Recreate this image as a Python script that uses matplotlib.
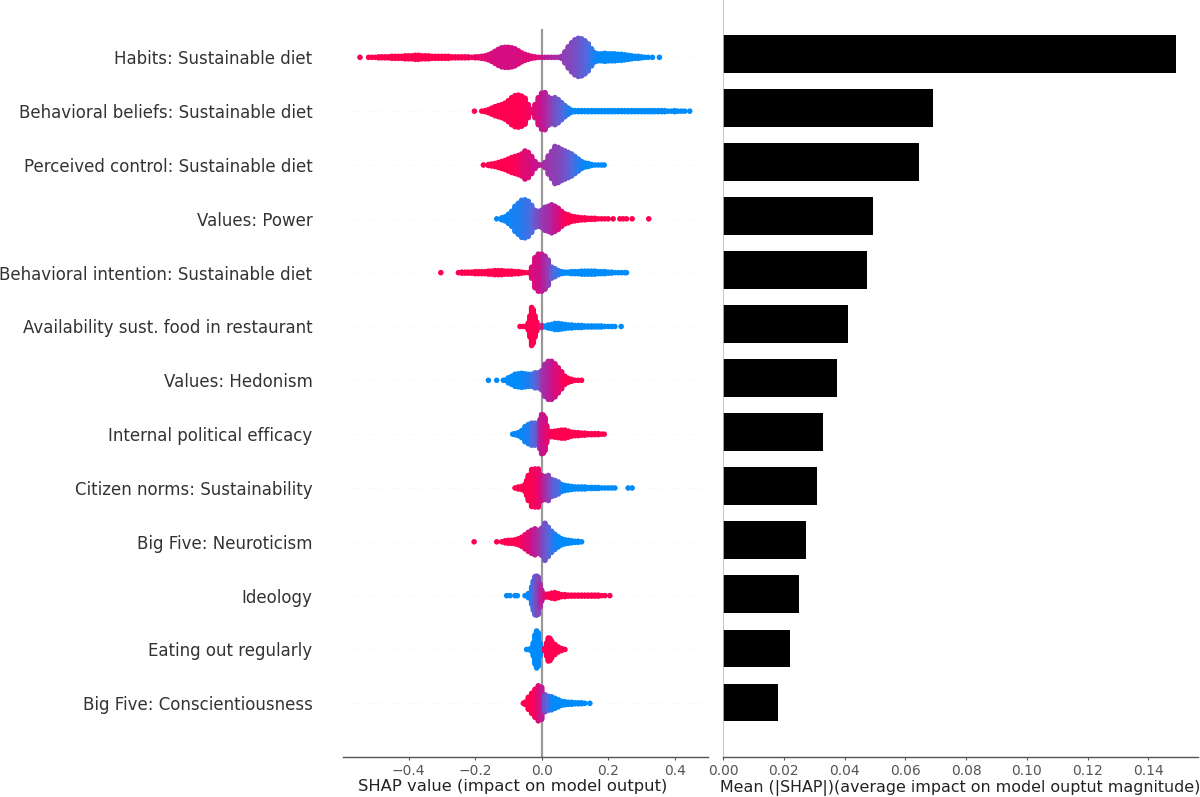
import matplotlib
matplotlib.use("Agg")
import matplotlib.pyplot as plt
from matplotlib.colors import LinearSegmentedColormap
import numpy as np

FEATURES = ["Habits: Sustainable diet", "Behavioral beliefs: Sustainable diet",
            "Perceived control: Sustainable diet", "Values: Power",
            "Behavioral intention: Sustainable diet", "Availability sust. food in restaurant",
            "Values: Hedonism", "Internal political efficacy",
            "Citizen norms: Sustainability", "Big Five: Neuroticism", "Ideology",
            "Eating out regularly", "Big Five: Conscientiousness"]

MEAN_SHAP = [0.149, 0.069, 0.0645, 0.0495, 0.0475, 0.0413, 0.0375,
             0.033, 0.031, 0.0272, 0.025, 0.022, 0.018]

# (shap value, number of people piled up there, feature value 0-1)
habits = [(-0.546,1,1),(-0.52,1,1),(-0.51,1,1),(-0.50,1,1),(-0.49,2,1),(-0.48,2,1),(-0.47,2,1),(-0.46,2,1),
          (-0.45,3,1),(-0.44,3,1),(-0.43,3,1),(-0.42,3,1),(-0.41,4,1),(-0.40,4,1),(-0.39,4,1),(-0.38,5,1),
          (-0.37,5,1),(-0.36,4,1),(-0.35,4,1),(-0.34,4,1),(-0.33,3,1),(-0.32,3,1),(-0.31,3,1),(-0.30,3,1),
          (-0.29,3,1),(-0.28,3,1),(-0.27,2,1),(-0.26,2,.98),(-0.25,2,.98),(-0.24,2,.96),(-0.23,2,.95),(-0.22,2,.95),
          (-0.21,1,.93),(-0.20,2,.92),(-0.19,2,.9),(-0.18,3,.88),(-0.17,4,.85),(-0.16,6,.85),(-0.15,9,.82),
          (-0.14,13,.8),(-0.13,17,.8),(-0.12,20,.8),(-0.11,21,.8),(-0.10,21,.8),(-0.09,20,.8),(-0.08,18,.8),
          (-0.07,14,.82),(-0.06,10,.82),(-0.05,7,.84),(-0.04,5,.84),(-0.03,3,.85),(-0.02,2,.85),(-0.01,1,.85),
          (0.0,1,.75),(0.01,1,.7),(0.02,1,.65),(0.03,1,.65),(0.04,1,.62),(0.05,1,.6),(0.06,3,.55),(0.07,12,.5),
          (0.08,22,.48),(0.09,30,.45),(0.10,36,.42),(0.11,39,.38),(0.12,38,.35),(0.13,34,.3),(0.14,28,.25),
          (0.15,18,.15),(0.16,10,.08),(0.17,8,.02),(0.18,8,0),(0.19,9,0),(0.20,8,0),(0.21,8,0),(0.22,8,0),
          (0.23,7,0),(0.24,7,0),(0.25,6,0),(0.26,5,0),(0.27,4,0),(0.28,3,0),(0.29,3,0),(0.30,2,0),(0.31,1,0),
          (0.32,1,0),(0.333,1,0),(0.354,1,0)]

beliefs = [(-0.202,1,1),(-0.18,1,1),(-0.17,2,1),(-0.16,4,1),(-0.15,7,1),(-0.14,10,1),(-0.13,12,1),(-0.12,14,1),
           (-0.11,17,1),(-0.10,22,1),(-0.09,28,1),(-0.08,32,1),(-0.07,33,1),(-0.06,31,1),(-0.05,27,.98),
           (-0.04,14,.95),(-0.03,4,.9),(-0.02,14,.85),(-0.01,28,.8),(0.0,37,.75),(0.01,38,.68),(0.02,29,.58),
           (0.03,26,.5),(0.04,28,.42),(0.05,24,.35),(0.06,18,.3),(0.07,12,.22),(0.08,7,.12),(0.09,3,.05),
           (0.10,2,0),(0.11,2,0),(0.12,2,0),(0.13,2,0),(0.14,2,0),(0.15,2,0),(0.16,2,0),(0.17,2,0),(0.18,2,0),(0.19,2,0),
           (0.20,2,0),(0.21,2,0),(0.22,2,0),(0.23,2,0),(0.24,2,0),(0.25,2,0),(0.26,2,0),(0.27,2,0),(0.28,2,0),(0.29,2,0),
           (0.30,2,0),(0.31,2,0),(0.32,2,0),(0.33,2,0),(0.34,2,0),(0.35,2,0),(0.36,2,0),(0.37,2,0),(0.38,1,0),(0.39,1,0),
           (0.40,2,0),(0.41,1,0),(0.42,1,0),(0.43,1,0),(0.445,1,0)]

control = [(-0.175,1,1),(-0.16,2,1),(-0.15,3,1),(-0.14,4,1),(-0.13,6,1),(-0.12,8,1),(-0.11,10,1),(-0.10,13,1),
           (-0.09,16,1),(-0.08,18,.97),(-0.07,20,.95),(-0.06,23,.9),(-0.05,29,.85),(-0.04,26,.85),(-0.03,18,.8),
           (-0.02,8,.75),(-0.01,2,.72),(0.0,1,.7),(0.01,6,.6),(0.02,19,.55),(0.03,28,.52),(0.04,38,.5),(0.05,36,.47),
           (0.06,32,.44),(0.07,29,.4),(0.08,26,.35),(0.09,23,.28),(0.10,18,.2),(0.11,13,.14),(0.12,8,.08),
           (0.13,5,.03),(0.14,4,0),(0.15,2,0),(0.16,1,0),(0.17,1,0),(0.18,1,0),(0.188,1,0)]

power = [(-0.135,1,0),(-0.12,3,.02),(-0.11,5,.02),(-0.10,10,.04),(-0.09,16,.05),(-0.08,26,.08),(-0.07,32,.1),
         (-0.06,38,.12),(-0.05,39,.15),(-0.04,36,.2),(-0.03,28,.25),(-0.02,18,.35),(-0.01,16,.42),(0.0,18,.5),
         (0.01,24,.55),(0.02,26,.6),(0.03,29,.65),(0.04,26,.72),(0.05,22,.8),(0.06,16,.88),(0.07,11,.95),
         (0.08,9,1),(0.09,6,1),(0.10,5,1),(0.11,4,1),(0.12,3,1),(0.13,3,1),(0.14,2,1),(0.15,2,1),(0.16,2,1),
         (0.17,1,1),(0.18,1,1),(0.19,1,1),(0.20,1,1),(0.215,1,1),(0.235,1,1),(0.245,1,1),(0.255,1,1),
         (0.272,1,1),(0.322,1,1)]

intention = [(-0.303,1,1),(-0.25,1,1),(-0.24,2,1),(-0.23,2,1),(-0.22,2,1),(-0.21,2,1),(-0.20,3,1),(-0.19,3,1),(-0.18,3,1),(-0.17,3,1),
             (-0.16,4,1),(-0.15,4,1),(-0.14,5,1),(-0.13,5,1),(-0.12,5,1),(-0.11,4,1),(-0.10,4,1),(-0.09,4,1),
             (-0.08,3,1),(-0.07,3,1),(-0.06,2,1),(-0.05,1,1),(-0.04,1,.95),(-0.03,12,.85),(-0.02,31,.82),
             (-0.01,38,.8),(0.0,38,.72),(0.01,34,.65),(0.02,26,.5),(0.03,12,.35),(0.04,9,.25),(0.05,5,.15),
             (0.06,3,.05),(0.07,2,0),(0.08,2,0),(0.09,3,0),(0.10,3,0),(0.11,3,0),(0.12,4,0),(0.13,4,0),(0.14,4,0),
             (0.15,4,0),(0.16,4,0),(0.17,3,0),(0.18,3,0),(0.19,3,0),(0.20,2,0),(0.21,2,0),(0.22,1,0),(0.23,1,0),
             (0.24,1,0),(0.25,1,0),(0.255,1,0)]

availability = [(-0.065,1,1),(-0.055,1,1),(-0.045,2,1),(-0.04,8,1),(-0.035,22,1),(-0.03,39,1),(-0.025,34,1),(-0.02,22,1),(-0.015,10,1),(-0.01,3,1),
                (0.0,3,.5),(0.005,1,1),(0.012,2,0),(0.02,4,0),(0.03,5,0),(0.04,7,0),(0.05,7,0),(0.06,6,0),(0.07,5,0),
                (0.08,4,0),(0.09,4,0),(0.10,3,0),(0.11,3,0),(0.12,3,0),(0.13,2,0),(0.14,2,0),(0.15,2,0),(0.16,2,0),
                (0.17,2,0),(0.18,2,0),(0.19,1,0),(0.20,1,0),(0.21,1,0),(0.22,1,0),(0.239,1,0)]

hedonism = [(-0.16,1,0),(-0.135,1,0),(-0.115,1,0),(-0.11,1,0),(-0.10,6,0),(-0.09,9,0),(-0.08,13,0),(-0.07,14,0),
            (-0.06,15,.02),(-0.05,14,.05),(-0.04,13,.1),(-0.03,13,.15),(-0.02,16,.25),(-0.01,16,.35),(0.0,20,.5),
            (0.01,33,.6),(0.02,39,.65),(0.03,39,.72),(0.04,34,.8),(0.05,26,.85),(0.06,18,.9),(0.07,9,1),(0.08,5,1),
            (0.09,3,1),(0.10,1,1),(0.11,1,1),(0.12,1,1)]

efficacy = [(-0.087,1,.02),(-0.08,2,.02),(-0.07,4,.02),(-0.06,8,.03),(-0.05,16,.05),(-0.04,20,.08),(-0.03,23,.2),
            (-0.02,23,.3),(-0.01,20,.4),(-0.005,30,.6),(0.0,40,.72),(0.005,39,.75),(0.01,34,.78),(0.015,18,.85),(0.02,7,.9),(0.03,6,1),(0.04,7,1),(0.05,8,1),
            (0.06,9,1),(0.07,9,1),(0.08,7,1),(0.09,5,1),(0.10,4,1),(0.11,4,1),(0.12,3,1),(0.13,3,1),(0.14,2,1),
            (0.15,2,1),(0.16,2,1),(0.17,2,1),(0.18,1,1),(0.188,1,1)]

norms = [(-0.08,1,1),(-0.07,3,1),(-0.06,4,1),(-0.05,8,1),(-0.045,16,1),(-0.04,26,1),(-0.03,38,1),(-0.02,39,.95),(-0.01,39,.9),
         (0.0,26,.8),(0.01,24,.65),(0.02,26,.5),(0.03,18,.4),(0.04,16,.3),(0.05,13,.25),(0.06,8,.1),(0.07,6,0),
         (0.08,5,0),(0.09,4,0),(0.10,3,0),(0.11,3,0),(0.12,3,0),(0.13,3,0),(0.14,2,0),(0.15,2,0),(0.16,2,0),
         (0.17,2,0),(0.18,1,0),(0.19,1,0),(0.20,1,0),(0.21,1,0),(0.22,1,0),(0.26,1,0),(0.272,1,0)]

neuroticism = [(-0.203,1,1),(-0.135,1,1),(-0.12,1,1),(-0.11,3,1),(-0.10,4,1),(-0.09,4,1),(-0.08,5,1),(-0.07,7,.98),
               (-0.06,10,.95),(-0.05,15,.9),(-0.04,20,.85),(-0.03,24,.78),(-0.02,27,.7),(-0.01,24,.6),(0.0,28,.5),
               (0.01,38,.4),(0.02,30,.3),(0.03,22,.2),(0.04,16,.1),(0.05,11,.03),(0.06,7,0),(0.07,5,0),(0.08,4,0),
               (0.09,3,0),(0.10,2,0),(0.11,2,0),(0.12,1,0)]

ideology = [(-0.105,1,0),(-0.095,1,0),(-0.08,1,0),(-0.073,1,0),(-0.05,1,0),(-0.04,5,.02),(-0.03,18,.1),(-0.025,30,.2),(-0.02,39,.3),(-0.015,40,.38),
            (-0.01,38,.45),(-0.005,24,.6),(0.0,12,.7),(0.01,4,.85),(0.02,4,1),(0.03,6,1),(0.04,7,1),(0.05,5,1),(0.06,3,1),(0.07,3,1),
            (0.08,2,1),(0.09,2,1),(0.10,2,1),(0.11,2,1),(0.12,2,1),(0.13,2,1),(0.14,2,1),(0.15,2,1),(0.16,2,1),
            (0.17,2,1),(0.18,1,1),(0.19,1,1),(0.205,1,1)]

eating = [(-0.045,1,0),(-0.035,2,0),(-0.03,4,0),(-0.025,14,0),(-0.02,30,0),(-0.015,38,0),(-0.01,34,0),(-0.005,14,0),(0.0,2,0),(0.01,4,1),(0.015,14,1),(0.02,24,1),(0.025,23,1),(0.03,18,1),
          (0.04,11,1),(0.05,6,1),(0.06,3,1),(0.07,1,1)]

conscientious = [(-0.055,1,1),(-0.05,3,1),(-0.04,13,1),(-0.03,21,1),(-0.02,29,.95),(-0.01,36,.85),(0.0,33,.7),
                 (0.01,18,.4),(0.02,15,.2),(0.03,14,.1),(0.04,11,0),(0.05,8,0),(0.06,5,0),(0.07,4,0),(0.08,3,0),
                 (0.09,3,0),(0.10,2,0),(0.11,2,0),(0.12,2,0),(0.13,1,0),(0.145,1,0)]

SWARMS = [habits, beliefs, control, power, intention, availability, hedonism,
          efficacy, norms, neuroticism, ideology, eating, conscientious]

# mid tones of the original are more saturated than a straight blue to red blend
red_blue = LinearSegmentedColormap.from_list(
    "red_blue", ["#008bfb", "#4f6be0", "#8f3fb4", "#c9128e", "#ff0051"])

W, H = 1200, 797
fig = plt.figure(figsize=(W / 100, H / 100), dpi=100)

# axes boxes come from the pixel layout of the original
ax = fig.add_axes([343 / W, (H - 756.5) / H, 365 / W, 727.5 / H])
ax2 = fig.add_axes([723 / W, (H - 756.5) / H, 475 / W, 756.5 / H])

rows = np.arange(len(FEATURES))[::-1]
row_px = 53.83

for y, swarm in zip(rows, SWARMS):
    ax.axhline(y, color="#cccccc", lw=0.6, dashes=(1, 5), alpha=0.5, zorder=0)
    xs, counts, vals = [np.array(v) for v in zip(*swarm)]
    px = np.repeat(xs, counts)
    cs = np.repeat(vals, counts)
    py = np.concatenate([(np.arange(n) - (n - 1) / 2) / row_px for n in counts]) + y
    ax.scatter(px, py, c=cs, cmap=red_blue, vmin=0, vmax=1, s=16, linewidths=0, zorder=3)

ax.axvline(0, color="#999999", lw=1.6, zorder=1)
ax.set_xlim(-0.597, 0.5)
ax.set_ylim(-53.2 / row_px, 674.3 / row_px)
ax.set_yticks(rows)
ax.set_yticklabels(FEATURES, fontsize=12, color="#333333")
ax.tick_params(axis="y", length=0, pad=22)
ax.set_xticks([-0.4, -0.2, 0.0, 0.2, 0.4])
ax.set_xticklabels(["\u22120.4", "\u22120.2", "0.0", "0.2", "0.4"])
ax.tick_params(axis="x", length=2.2, width=0.8, color="#555555", pad=3, labelsize=10, labelcolor="#555555")

ax2.barh(rows, MEAN_SHAP, height=0.7, color="black")
ax2.axvline(0, color="#bbbbbb", lw=1.2, zorder=1)
ax2.set_xlim(0, 475 / 3038)
ax2.set_ylim(-1, 13)
ax2.set_yticks([])
ax2.set_xticks(np.arange(0, 0.15, 0.02))
ax2.set_xticklabels(["%.2f" % t for t in np.arange(0, 0.15, 0.02)])
ax2.tick_params(axis="x", length=2.2, width=0.8, color="#555555", pad=3, labelsize=10, labelcolor="#555555")

for a in (ax, ax2):
    for s in ("top", "left", "right"):
        a.spines[s].set_visible(False)
    a.spines["bottom"].set_color("#555555")
    a.spines["bottom"].set_linewidth(1.0)

fig.text(513 / W, 1 - 787 / H, "SHAP value (impact on model output)", ha="center", va="center",
         fontsize=11.8, color="#222222")
fig.text(960 / W, 1 - 788 / H, "Mean (|SHAP|)(average impact on model ouptut magnitude)", ha="center", va="center",
         fontsize=11.45, color="#222222")

fig.savefig("out.png", dpi=100)
